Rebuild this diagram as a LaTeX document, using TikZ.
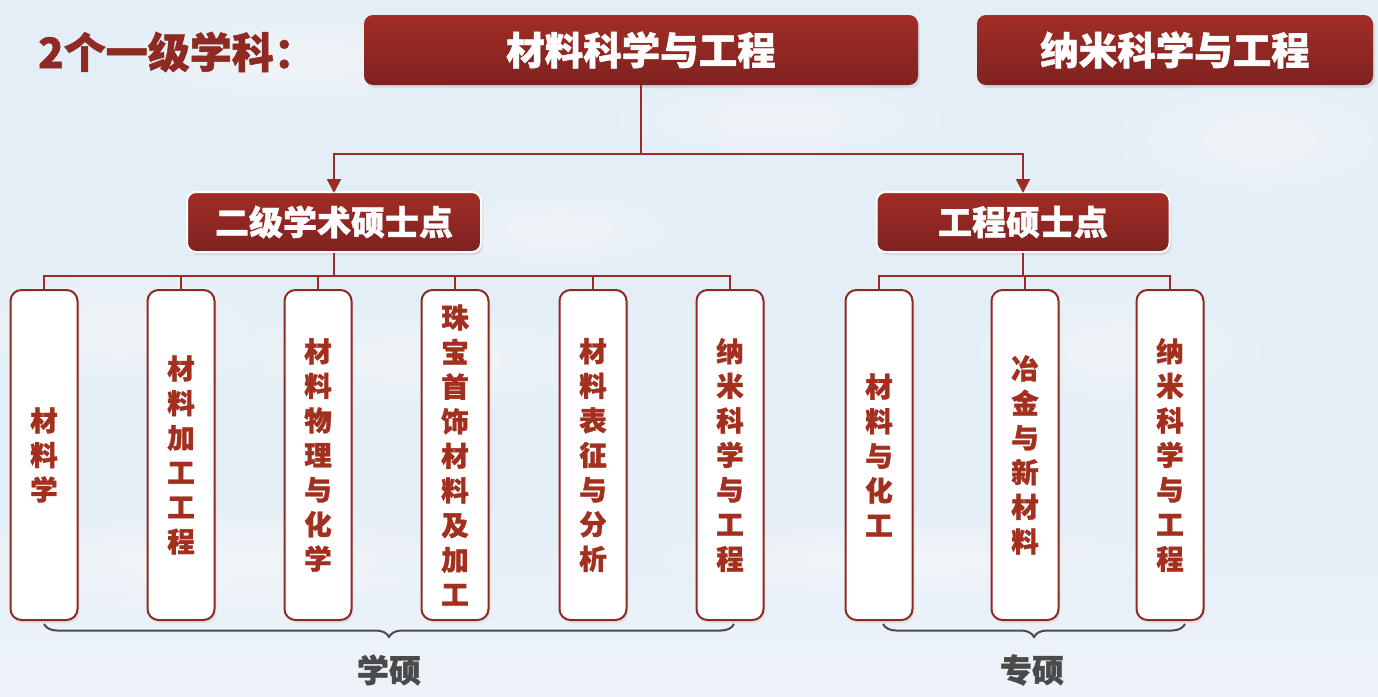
\documentclass[tikz,border=0pt]{standalone}
\usepackage{fontspec}
\setmainfont{Noto Sans CJK SC}[BoldFeatures={FakeBold=1.2}]
\usetikzlibrary{decorations.pathreplacing,shadows,arrows.meta}
\definecolor{boxtop}{HTML}{A22D26}
\definecolor{boxbot}{HTML}{7E2220}
\definecolor{linered}{HTML}{9B2D26}
\definecolor{leaftext}{HTML}{A3301F}
\definecolor{leafedge}{HTML}{8E2A22}
\definecolor{titlered}{HTML}{8E2A22}
\definecolor{bracegray}{HTML}{4A4A4A}
\definecolor{bgtop}{HTML}{EBF2F9}
\definecolor{bgmid}{HTML}{E3EEF7}
\definecolor{bgwhite}{HTML}{F4F6F9}
\definecolor{bgpink}{HTML}{F5DCDC}
\pgfdeclareverticalshading{bgshade}{100bp}{color(0bp)=(bgpink); color(15bp)=(bgwhite); color(40bp)=(bgmid); color(85bp)=(bgmid); color(100bp)=(bgtop)}
\begin{document}
\begin{tikzpicture}[x=1pt,y=-1pt,
  redbox/.style={rounded corners=9pt, top color=boxtop, bottom color=boxbot, text=white,
    font=\bfseries, inner sep=0pt,
    drop shadow={opacity=0.18, shadow xshift=2pt, shadow yshift=-3pt}},
  topbox/.style={redbox, font=\fontsize{38.5}{40}\selectfont\bfseries, minimum height=70pt},
  midbox/.style={redbox, draw=white, line width=2pt, font=\fontsize{34}{36}\selectfont\bfseries, minimum height=60pt},
  leaf/.style={draw=leafedge, line width=2pt, fill=white, rounded corners=11pt,
    minimum width=67pt, minimum height=330pt, inner sep=0pt, align=center,
    text=leaftext, font=\fontsize{27.5}{34.6}\selectfont\bfseries,
    drop shadow={opacity=0.12, shadow xshift=2pt, shadow yshift=-3pt}},
  conn/.style={draw=linered, line width=2pt},
  arr/.style={conn, -{Triangle[length=14pt,width=14pt]}},
  bracestyle/.style={draw=bracegray, line width=2pt,
    decorate, decoration={brace, mirror, amplitude=13pt}},
  lbl/.style={text=bracegray, font=\fontsize{32}{34}\selectfont\bfseries, inner sep=0pt},
]
\useasboundingbox (0,0) rectangle (1378,696);
\shade[shading=bgshade] (0,0) rectangle (1378,696);
% soft clouds
\foreach \cx/\cy/\rx/\ry in {120/330/160/60, 420/360/200/50, 1260/140/140/60, 780/120/160/40, 1120/350/140/60, 220/560/260/50, 900/560/240/40, 560/230/130/40, 300/60/180/45}
  \foreach \s in {1.0,0.8,0.6,0.4}
    \fill[white, opacity=0.12] (\cx,\cy) ellipse [x radius=\s*\rx, y radius=\s*\ry];

% title
\node[anchor=west, text=titlered, font=\fontsize{42}{44}\selectfont\bfseries, inner sep=0pt] (ttl) at (38,52) {2个一级学科：};

% first level
\node[topbox, minimum width=554pt] (mse) at (641,50) {材料科学与工程};
\node[topbox, minimum width=396pt] (nano) at (1175,50) {纳米科学与工程};

% second level
\node[midbox, minimum width=294pt] (acad) at (334,222) {二级学术硕士点};
\node[midbox, minimum width=293pt] (eng) at (1023,222) {工程硕士点};

\coordinate (j1) at (641,154);
\draw[conn] (mse.south) -- (j1);
\draw[arr] (j1) -| ([yshift=-2pt]acad.north);
\draw[arr] (j1) -| ([yshift=-2pt]eng.north);

% leaves (academic)
\node[leaf] (a1) at (44,455) {材\\料\\学};
\node[leaf] (a2) at (181,455) {材\\料\\加\\工\\工\\程};
\node[leaf] (a3) at (318,455) {材\\料\\物\\理\\与\\化\\学};
\node[leaf] (a4) at (455,455) {珠\\宝\\首\\饰\\材\\料\\及\\加\\工};
\node[leaf] (a5) at (593,455) {材\\料\\表\\征\\与\\分\\析};
\node[leaf] (a6) at (730,455) {纳\\米\\科\\学\\与\\工\\程};

% leaves (engineering)
\node[leaf] (e1) at (879,455) {材\\料\\与\\化\\工};
\node[leaf] (e2) at (1025,455) {冶\\金\\与\\新\\材\\料};
\node[leaf] (e3) at (1170,455) {纳\\米\\科\\学\\与\\工\\程};

\coordinate (j2) at (334,276);
\draw[conn] (acad.south) -- (j2);
\foreach \n in {a1,a2,a3,a4,a5,a6}
  \draw[conn] (j2) -| (\n.north);

\coordinate (j3) at (1023,276);
\draw[conn] (eng.south) -- (j3);
\foreach \n in {e1,e2,e3}
  \draw[conn] (j3) -| (\n.north);

% braces
\coordinate (b1s) at (44,624);
\coordinate (b1e) at (734,624);
\coordinate (b2s) at (883,624);
\coordinate (b2e) at (1185,624);
\draw[bracestyle] (b1s) -- (b1e);
\draw[bracestyle] (b2s) -- (b2e);

\node[lbl] (xs) at (389,670) {学硕};
\node[lbl] (zs) at (1032,670) {专硕};
\end{tikzpicture}
\end{document}
